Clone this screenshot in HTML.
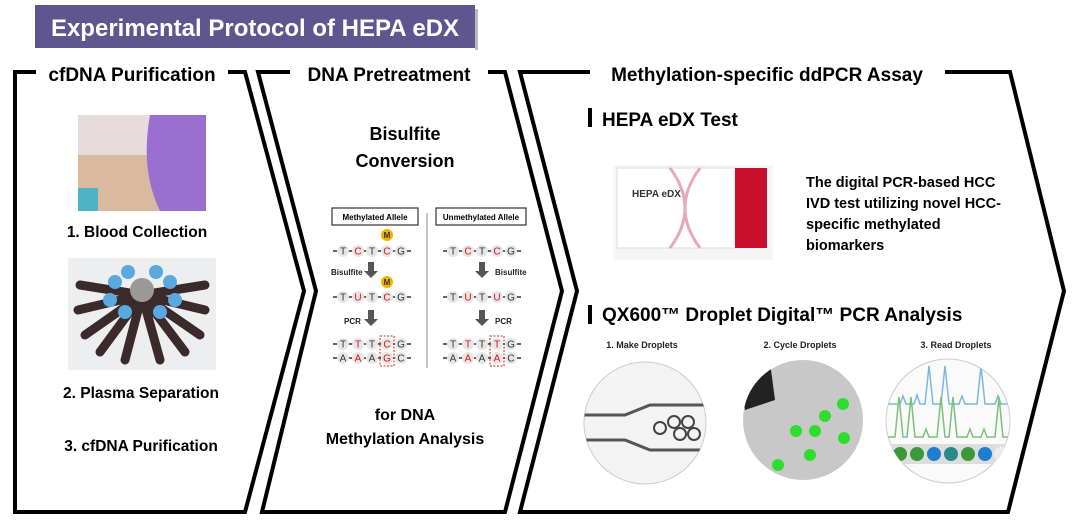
<!DOCTYPE html>
<html><head><meta charset="utf-8"><style>
html,body{margin:0;padding:0;background:#fff;width:1080px;height:525px;overflow:hidden}
svg{display:block}
.b{font-family:"Liberation Sans",sans-serif;font-weight:bold}
</style></head><body>
<svg id="s" width="1080" height="525" viewBox="0 0 1080 525" xmlns="http://www.w3.org/2000/svg">
<defs>
<clipPath id="c1"><circle cx="645" cy="423" r="61"/></clipPath>
<clipPath id="c2"><circle cx="803" cy="420" r="60"/></clipPath>
<clipPath id="c3"><circle cx="948" cy="421" r="62"/></clipPath>
</defs>
<rect x="35" y="5" width="440" height="43" fill="#5f5690"/>
<rect x="475" y="9" width="3" height="41" fill="#bbb"/>
<text x="255" y="36" class="b" font-size="24" fill="#fff" text-anchor="middle">Experimental Protocol of HEPA eDX</text>

<g fill="none" stroke="#000" stroke-width="4" stroke-linejoin="miter">
<polyline points="36,72 15,72 15,512 245,512 304,291 245,72 228,72"/>
<polyline points="290,72 258,72 316,291 262,512 505,512 562,291 505,72 488,72"/>
<polyline points="590,72 520,72 577,291 520,512 1008,512 1064,291 1010,72 945,72"/>
</g>
<text x="132" y="81" class="b" font-size="19" text-anchor="middle">cfDNA Purification</text>
<text x="389" y="81" class="b" font-size="19" text-anchor="middle">DNA Pretreatment</text>
<text x="767" y="81" class="b" font-size="19" text-anchor="middle">Methylation-specific ddPCR Assay</text>

<!-- panel 1 -->
<rect x="78" y="115" width="128" height="96" fill="#d9b9a0"/>
<rect x="78" y="115" width="128" height="40" fill="#e6dcdc"/>
<path d="M150 115 L206 115 L206 211 L160 211 Q140 170 150 115Z" fill="#9b6fd0"/>
<rect x="78" y="188" width="20" height="23" fill="#4fb3c8"/>
<text x="137" y="237" class="b" font-size="15.5" text-anchor="middle">1. Blood Collection</text>
<rect x="68" y="258" width="148" height="112" fill="#eceef0"/>
<g stroke="#3a2a2a" stroke-width="9" stroke-linecap="round">
<line x1="142" y1="295" x2="80" y2="285"/><line x1="142" y1="295" x2="78" y2="310"/><line x1="142" y1="295" x2="85" y2="335"/>
<line x1="142" y1="295" x2="100" y2="352"/><line x1="142" y1="295" x2="125" y2="360"/><line x1="142" y1="295" x2="160" y2="360"/>
<line x1="142" y1="295" x2="185" y2="352"/><line x1="142" y1="295" x2="200" y2="335"/><line x1="142" y1="295" x2="205" y2="310"/><line x1="142" y1="295" x2="205" y2="285"/>
</g>
<g fill="#5aa8e0"><circle cx="115" cy="282" r="7"/><circle cx="128" cy="272" r="7"/><circle cx="156" cy="272" r="7"/><circle cx="170" cy="282" r="7"/><circle cx="110" cy="300" r="7"/><circle cx="175" cy="300" r="7"/><circle cx="125" cy="312" r="7"/><circle cx="160" cy="312" r="7"/></g>
<circle cx="142" cy="290" r="12" fill="#999"/>
<text x="141" y="398" class="b" font-size="15.5" text-anchor="middle">2. Plasma Separation</text>
<text x="141" y="451" class="b" font-size="15.5" text-anchor="middle">3. cfDNA Purification</text>

<!-- panel 2 -->
<text x="405" y="140" class="b" font-size="18" text-anchor="middle">Bisulfite</text>
<text x="405" y="167" class="b" font-size="18" text-anchor="middle">Conversion</text>
<text x="405" y="420" class="b" font-size="16" text-anchor="middle">for DNA</text>
<text x="405" y="444" class="b" font-size="16" text-anchor="middle">Methylation Analysis</text>
<line x1="427" y1="213" x2="427" y2="368" stroke="#888" stroke-width="1"/>
<rect x="332" y="208" width="86" height="17" fill="#fff" stroke="#333" stroke-width="1.2"/>
<text x="375" y="220" class="b" font-size="8" text-anchor="middle">Methylated Allele</text>
<rect x="436" y="208" width="90" height="17" fill="#fff" stroke="#333" stroke-width="1.2"/>
<text x="481" y="220" class="b" font-size="8" text-anchor="middle">Unmethylated Allele</text>
<g id="dna"></g>
<g font-family="Liberation Sans,sans-serif" font-weight="bold" font-size="8" fill="#222">
<text x="331" y="275">Bisulfite</text><text x="344" y="324">PCR</text>
<text x="495" y="275">Bisulfite</text><text x="495" y="324">PCR</text>
</g>
<g fill="#555"><path d="M368 262 h6 v9 h4 l-7 7 l-7 -7 h4z"/><path d="M368 310 h6 v9 h4 l-7 7 l-7 -7 h4z"/>
<path d="M479 262 h6 v9 h4 l-7 7 l-7 -7 h4z"/><path d="M479 310 h6 v9 h4 l-7 7 l-7 -7 h4z"/></g>
<g fill="#f0b400"><circle cx="387" cy="235" r="6"/><circle cx="387" cy="282" r="6"/></g>
<g font-family="Liberation Sans,sans-serif" font-weight="bold" font-size="8" fill="#333" text-anchor="middle"><text x="387" y="238">M</text><text x="387" y="285">M</text></g>
<g fill="none" stroke="#d22" stroke-width="1" stroke-dasharray="2,1.5"><rect x="380" y="336" width="14" height="30"/><rect x="490" y="336" width="14" height="30"/></g>

<!-- panel 3 -->
<rect x="588" y="108" width="4" height="19" fill="#000"/>
<text x="602" y="126" class="b" font-size="19">HEPA eDX Test</text>
<rect x="613" y="165" width="160" height="95" fill="#f5f5f5"/>
<rect x="617" y="168" width="118" height="80" fill="#fff" stroke="#ddd"/>
<rect x="735" y="168" width="32" height="80" fill="#c8102e"/>
<path d="M670 168 Q700 208 670 248 M700 168 Q670 208 700 248" stroke="#e9a8b8" stroke-width="3" fill="none"/>
<text x="632" y="197" class="b" font-size="10" fill="#333">HEPA eDX</text>
<g class="b" font-size="14.5"><text x="806" y="187">The digital PCR-based HCC</text><text x="806" y="208">IVD test utilizing novel HCC-</text><text x="806" y="229">specific methylated</text><text x="806" y="250">biomarkers</text></g>
<rect x="588" y="305" width="4" height="19" fill="#000"/>
<text x="602" y="321" class="b" font-size="19">QX600™ Droplet Digital™ PCR Analysis</text>
<g font-family="Liberation Sans,sans-serif" font-weight="bold" font-size="9" fill="#222" text-anchor="middle">
<text x="642" y="348">1. Make Droplets</text><text x="800" y="348">2. Cycle Droplets</text><text x="956" y="348">3. Read Droplets</text></g>
<circle cx="645" cy="423" r="61" fill="#f3f3f3" stroke="#ccc"/>
<g clip-path="url(#c1)">
<path d="M580 415 H625 L650 405 H712 M580 440 H625 L650 450 H712" stroke="#555" stroke-width="3" fill="none"/>
<g fill="none" stroke="#444" stroke-width="2"><circle cx="660" cy="428" r="6"/><circle cx="674" cy="422" r="6"/><circle cx="688" cy="422" r="6"/><circle cx="680" cy="434" r="6"/><circle cx="694" cy="434" r="6"/></g>
</g>
<circle cx="803" cy="420" r="60" fill="#c8c8c8"/>
<g clip-path="url(#c2)">
<path d="M740 380 L770 362 L775 400 L745 410Z" fill="#222"/>
<g fill="#2ede2e"><circle cx="843" cy="404" r="6"/><circle cx="825" cy="416" r="6"/><circle cx="796" cy="431" r="6"/><circle cx="815" cy="431" r="6"/><circle cx="844" cy="438" r="6"/><circle cx="810" cy="455" r="6"/><circle cx="778" cy="465" r="6"/></g>
</g>
<circle cx="948" cy="421" r="62" fill="#fafafa" stroke="#ccc"/>
<g clip-path="url(#c3)">
<path d="M885 404 h15 l3-8 l3 8 h8 l3-9 l3 9 h5 l4-38 l4 38 h8 l4-38 l4 38 h10 l3-8 l3 8 h12 l4-38 l4 38 h10 l3-8 l3 8 h8 l3-8 l3 8 h20" stroke="#7ab8e0" stroke-width="1.5" fill="none"/>
<path d="M885 437 h10 l4-40 l4 40 h4 l4-40 l4 40 h8 l3-8 l3 8 h8 l4-40 l4 40 h4 l4-40 l4 40 h10 l3-8 l3 8 h8 l3-8 l3 8 h8 l4-40 l4 40 h16" stroke="#7cc07c" stroke-width="1.5" fill="none"/>
<rect x="885" y="444" width="130" height="20" fill="#ddd"/>
<g><circle cx="900" cy="454" r="7" fill="#3a9a3a"/><circle cx="917" cy="454" r="7" fill="#3a9a3a"/><circle cx="934" cy="454" r="7" fill="#1e7fd0"/><circle cx="951" cy="454" r="7" fill="#2a8a8a"/><circle cx="968" cy="454" r="7" fill="#3a9a3a"/><circle cx="985" cy="454" r="7" fill="#1e7fd0"/><circle cx="1001" cy="454" r="7" fill="#eee"/></g>
</g>
</svg>
<script>
var g=document.getElementById('dna'),NS="http://www.w3.org/2000/svg";
function row(x0,y,letters,reds){
 var xs=[0,15,29,44,58];
 var l=document.createElementNS(NS,'line');l.setAttribute('x1',x0-10);l.setAttribute('x2',x0+68);l.setAttribute('y1',y);l.setAttribute('y2',y);l.setAttribute('stroke','#333');l.setAttribute('stroke-width','1.5');g.appendChild(l);
 for(var i=0;i<5;i++){var c=document.createElementNS(NS,'circle');c.setAttribute('cx',x0+xs[i]);c.setAttribute('cy',y);c.setAttribute('r',6);c.setAttribute('fill','#e6e6e6');g.appendChild(c);
 var t=document.createElementNS(NS,'text');t.setAttribute('x',x0+xs[i]);t.setAttribute('y',y+3.5);t.setAttribute('text-anchor','middle');t.setAttribute('font-size','10');t.setAttribute('font-family','Liberation Sans,sans-serif');t.setAttribute('fill',reds.indexOf(i)>=0?'#d11':'#333');t.textContent=letters[i];g.appendChild(t);}
}
row(343,251,'TCTCG',[1,3]);row(343,297,'TUTCG',[1,3]);row(343,344,'TTTCG',[1,3]);row(343,358,'AAAGC',[1,3]);
row(453,251,'TCTCG',[1,3]);row(453,297,'TUTUG',[1,3]);row(453,344,'TTTTG',[1,3]);row(453,358,'AAAAC',[1,3]);
</script>
</body></html>
